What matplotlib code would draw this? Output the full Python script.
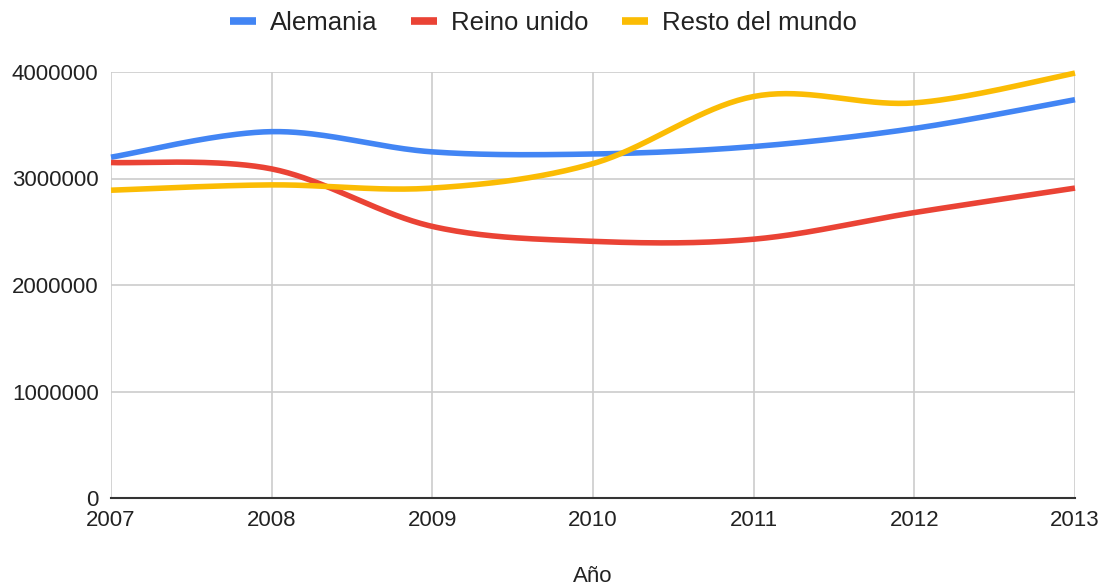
import numpy as np
import matplotlib
matplotlib.use("Agg")
import matplotlib.pyplot as plt

plt.rcParams['font.family'] = ['Liberation Sans', 'DejaVu Sans']

years = [2007, 2008, 2009, 2010, 2011, 2012, 2013]
alemania = [3200000, 3440000, 3250000, 3230000, 3300000, 3470000, 3740000]
reino_unido = [3150000, 3090000, 2550000, 2410000, 2430000, 2680000, 2910000]
resto_mundo = [2890000, 2940000, 2910000, 3140000, 3770000, 3710000, 3990000]
series_names = ["Alemania", "Reino unido", "Resto del mundo"]
colors = ["#4285F4", "#EA4335", "#FBBC04"]
y_ticks = [0, 1000000, 2000000, 3000000, 4000000]


def smooth(x, y, n=40, tension=0.5):
    x = np.asarray(x, float)
    y = np.asarray(y, float)
    xs, ys = [], []
    m = len(x)
    for i in range(m - 1):
        p0 = i - 1 if i > 0 else i
        p3 = i + 2 if i + 2 < m else i + 1
        t = np.linspace(0, 1, n, endpoint=False)
        mx1 = tension * (x[i + 1] - x[p0])
        mx2 = tension * (x[p3] - x[i])
        my1 = tension * (y[i + 1] - y[p0])
        my2 = tension * (y[p3] - y[i])
        h00 = 2 * t**3 - 3 * t**2 + 1
        h10 = t**3 - 2 * t**2 + t
        h01 = -2 * t**3 + 3 * t**2
        h11 = t**3 - t**2
        xs.append(h00 * x[i] + h10 * mx1 + h01 * x[i + 1] + h11 * mx2)
        ys.append(h00 * y[i] + h10 * my1 + h01 * y[i + 1] + h11 * my2)
    xs.append([x[-1]])
    ys.append([y[-1]])
    return np.concatenate(xs), np.concatenate(ys)


fig = plt.figure(figsize=(11.07, 5.88), dpi=100)
ax = fig.add_axes([111 / 1107, 1 - 498 / 588, (1075 - 111) / 1107, (498 - 72) / 588])

for name, vals, c in zip(series_names, [alemania, reino_unido, resto_mundo], colors):
    sx, sy = smooth(years, vals)
    ax.plot(sx, sy, color=c, lw=4, label=name, solid_capstyle='butt', clip_on=False)

ax.set_xlim(2007, 2013)
ax.set_ylim(0, 4000000)
ax.set_xticks(years)
ax.set_xticklabels([str(y) for y in years])
ax.set_yticks(y_ticks)
ax.set_yticklabels([str(v) for v in y_ticks])
ax.grid(True, color='#cccccc', lw=1.2)
ax.set_axisbelow(True)
for s in ['top', 'right', 'left']:
    ax.spines[s].set_visible(False)
ax.spines['bottom'].set_color('#333333')
ax.spines['bottom'].set_linewidth(1.5)
ax.tick_params(axis='both', length=0, labelsize=16, colors='#222222')
ax.tick_params(axis='x', pad=9)
ax.tick_params(axis='y', pad=9)
ax.set_xlabel("Año", fontsize=16, color='#222222', labelpad=25)

leg = fig.legend(loc='upper center', bbox_to_anchor=(0.491, 1.02), ncol=3, frameon=False,
                 fontsize=18.5, handlelength=1.0, handletextpad=0.55, columnspacing=1.3)
for line in leg.get_lines():
    line.set_linewidth(5.5)
    line.set_solid_capstyle('butt')
for t in leg.get_texts():
    t.set_color('#222222')

fig.savefig("out.png", dpi=100)
